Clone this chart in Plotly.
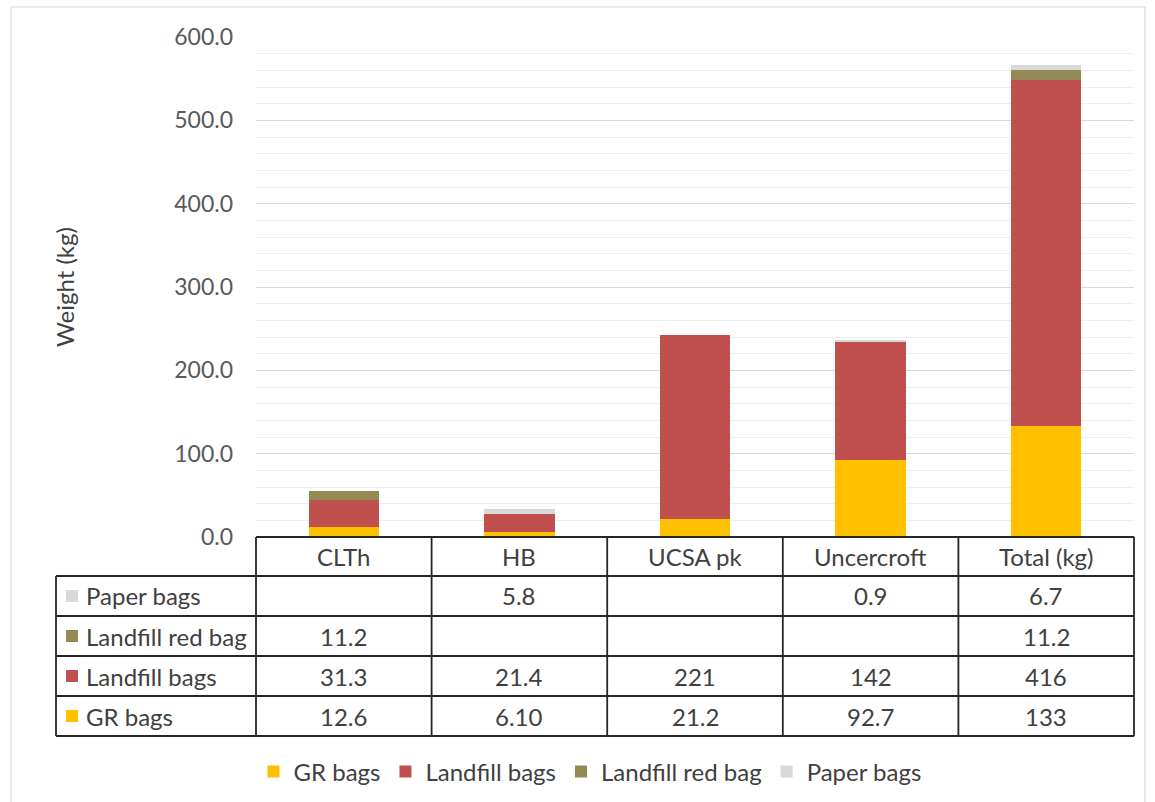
import plotly.graph_objects as go

# ---- data ----
categories = ["CLTh", "HB", "UCSA pk", "Uncercroft", "Total (kg)"]
series_names = ["GR bags", "Landfill bags", "Landfill red bag", "Paper bags"]
gr_bags = [12.6, 6.10, 21.2, 92.7, 133]
landfill_bags = [31.3, 21.4, 221, 142, 416]
landfill_red_bag = [11.2, None, None, None, 11.2]
paper_bags = [None, 5.8, None, 0.9, 6.7]
y_ticks = [0, 100, 200, 300, 400, 500, 600]

series_values = [gr_bags, landfill_bags, landfill_red_bag, paper_bags]
series_colors = ["#FFC000", "#C0504D", "#948A54", "#D9D9D9"]
series_formats = ["sig3", "sig3", "f1", "f1"]


def fmt(v, mode):
    if v is None:
        return ""
    if mode == "sig3":
        s = "{:#.3g}".format(v)
        return s.rstrip(".")
    return "{:.1f}".format(v)


FONT = "Lato"
TXT = "#404040"
LINE = "#262626"
TSIZE = 24

W, H = 1155, 802
ML, MR, MT, MB = 256, 21, 37, 265
PW = W - ML - MR
PH = H - MT - MB


def px_x(x):
    return (x - ML) / PW


def px_y(y):
    return (H - MB - y) / PH


fig = go.Figure()
for name, vals, col in zip(series_names, series_values, series_colors):
    fig.add_trace(go.Bar(
        x=categories, y=[v if v is not None else 0 for v in vals], name=name,
        marker=dict(color=col, line=dict(width=0)), width=0.4,
    ))

shapes = []
annotations = []
n = len(categories)
header_h = 0.078
row_h = 0.08
n_rows = len(series_names)
table_left = px_x(56)
table_bottom = -header_h - n_rows * row_h

# top line of table (axis line)
shapes.append(dict(type="line", xref="paper", yref="paper", x0=0, x1=1, y0=0, y1=0,
                   line=dict(color=LINE, width=1.8)))
# vertical column lines
for i in range(n + 1):
    shapes.append(dict(type="line", xref="paper", yref="paper", x0=i / n, x1=i / n,
                       y0=0, y1=table_bottom, line=dict(color=LINE, width=1.8)))
# left edge of label column
shapes.append(dict(type="line", xref="paper", yref="paper", x0=table_left, x1=table_left,
                   y0=-header_h, y1=table_bottom, line=dict(color=LINE, width=1.8)))
# horizontal row lines
for r in range(n_rows + 1):
    yy = -header_h - r * row_h
    shapes.append(dict(type="line", xref="paper", yref="paper", x0=table_left, x1=1,
                       y0=yy, y1=yy, line=dict(color=LINE, width=1.8)))

# header text
for c in categories:
    annotations.append(dict(x=c, xref="x", y=-header_h / 2, yref="paper", text=c,
                            showarrow=False, font=dict(family=FONT, size=TSIZE, color=TXT),
                            xanchor="center", yanchor="middle"))

# rows (reverse series order: top row = last series)
sq = 12
for r, idx in enumerate(reversed(range(n_rows))):
    yc = -header_h - (r + 0.5) * row_h
    name = series_names[idx]
    # colour key square
    shapes.append(dict(type="rect", xref="paper", yref="paper",
                       x0=px_x(66), x1=px_x(66 + sq),
                       y0=yc - sq / 2 / PH, y1=yc + sq / 2 / PH,
                       fillcolor=series_colors[idx], line=dict(width=0)))
    annotations.append(dict(x=px_x(84), xref="paper", y=yc, yref="paper", text=name,
                            showarrow=False, font=dict(family=FONT, size=TSIZE, color=TXT),
                            xanchor="left", yanchor="middle"))
    for c, v in zip(categories, series_values[idx]):
        t = fmt(v, series_formats[idx])
        if t:
            annotations.append(dict(x=c, xref="x", y=yc, yref="paper", text=t,
                                    showarrow=False,
                                    font=dict(family=FONT, size=TSIZE, color=TXT),
                                    xanchor="center", yanchor="middle"))

# outer chart border
shapes.append(dict(type="rect", xref="paper", yref="paper",
                   x0=px_x(11), x1=px_x(1145), y0=px_y(7), y1=px_y(806),
                   line=dict(color="#D9D9D9", width=1.2), fillcolor="rgba(0,0,0,0)",
                   layer="below"))

fig.update_layout(
    width=W, height=H,
    margin=dict(l=ML, r=MR, t=MT, b=MB, autoexpand=False),
    barmode="stack",
    plot_bgcolor="white", paper_bgcolor="white",
    font=dict(family=FONT, color=TXT),
    showlegend=True,
    legend=dict(orientation="h", x=px_x(590), xanchor="center", y=px_y(772),
                yanchor="middle", font=dict(family=FONT, size=TSIZE, color=TXT),
                itemwidth=30, traceorder="normal", itemclick=False),
    shapes=shapes,
    annotations=annotations,
    bargap=0.6,
)
fig.update_xaxes(showticklabels=False, showgrid=False, zeroline=False, showline=False,
                 ticks="", range=[-0.5, n - 0.5])
fig.update_yaxes(range=[0, 600], tickvals=y_ticks, tickformat=".1f",
                 showgrid=True, gridcolor="#D9D9D9", gridwidth=1,
                 minor=dict(dtick=20, showgrid=True, gridcolor="#EFEFEF", gridwidth=1),
                 zeroline=False, showline=False, ticks="", ticklabelstandoff=22,
                 tickfont=dict(family=FONT, size=23, color="#595959"),
                 title=dict(text="Weight (kg)", standoff=92,
                            font=dict(family=FONT, size=24, color=TXT)))

fig.write_html("out.html")
